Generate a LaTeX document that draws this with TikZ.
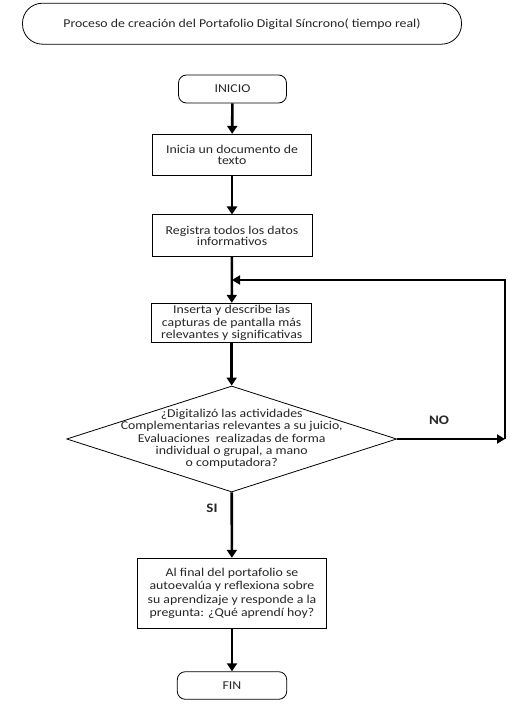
\documentclass[tikz,border=0pt]{standalone}
\usepackage{fontspec}
\setmainfont{Carlito}[FakeStretch=1.15]
\usetikzlibrary{shapes.geometric,arrows.meta}
\begin{document}
\begin{tikzpicture}[x=1pt,y=-1pt,
  every node/.style={font=\fontsize{12}{12.3}\selectfont, text=black!85},
  procbox/.style={draw=black, line width=1pt, align=center, inner sep=0pt},
  termbox/.style={draw=black, line width=0.8pt, rounded corners=8pt, align=center, inner sep=0pt},
  arr/.style={line width=2.6pt, -{Triangle[length=8pt,width=10pt]}},
  looparr/.style={line width=2pt, -{Triangle[length=8pt,width=9pt]}},
  lbl/.style={font=\fontsize{13}{15}\selectfont\bfseries, text=black!85}]
\useasboundingbox (0,0) rectangle (516,711);
\node[termbox, rounded corners=20pt, minimum width=439pt, minimum height=41pt] (title) at (242,23.7)
  {Proceso de creación del Portafolio Digital Síncrono( tiempo real)};
\node[termbox, minimum width=108pt, minimum height=28pt] (ini) at (232.5,89) {INICIO};
\node[procbox, minimum width=159.5pt, minimum height=40.7pt, font=\fontsize{12}{11}\selectfont] (b1) at (232,154.7)
  {Inicia un documento de\\texto};
\node[procbox, minimum width=160pt, minimum height=41pt, font=\fontsize{12}{11}\selectfont] (b2) at (232,235.5)
  {Registra todos los datos\\informativos};
\node[procbox, minimum width=160pt, minimum height=39.4pt] (b3) at (231.7,323)
  {Inserta y describe las\\capturas de pantalla más\\relevantes y significativas};
\node[diamond, draw=black, line width=0.8pt, minimum width=330pt, minimum height=106pt, inner sep=0pt] (dec) at (231.7,439) {};
\node[align=center] (dect) at (dec.center)
  {¿Digitalizó las actividades\\Complementarias relevantes a su juicio,\\Evaluaciones\ \ realizadas de forma\\individual o grupal, a mano\\o computadora?};
\node[procbox, minimum width=189.4pt, minimum height=70pt, font=\fontsize{12}{13.3}\selectfont] (b4) at (232,593.3)
  {Al final del portafolio se\\autoevalúa y reflexiona sobre\\su aprendizaje y responde a la\\pregunta: ¿Qué aprendí hoy?};
\node[termbox, minimum width=109.4pt, minimum height=27.6pt] (fin) at (232,685.5) {FIN};
\node[lbl] (no) at (439,420) {NO};
\node[lbl] (si) at (212,508) {SI};
\coordinate (r) at (505,439);
\coordinate (t) at (505,280);
\coordinate (m) at (232,280);
\draw[arr] (ini) -- (b1);
\draw[arr] (b1) -- (b2);
\draw[arr] (b2) -- (b3);
\draw[arr] (b3) -- (dec.north);
\draw[arr] (dec.south) -- (b4);
\draw[arr] (b4) -- (fin);
\draw[looparr] (dec.east) -- (r);
\draw[looparr] (r) -- (t) -- (m);
\end{tikzpicture}
\end{document}
